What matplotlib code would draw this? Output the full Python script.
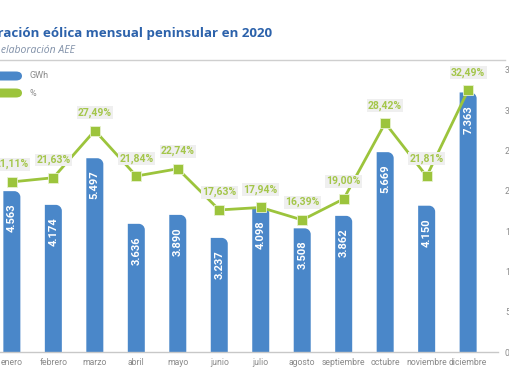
import matplotlib
matplotlib.use("Agg")
import matplotlib.pyplot as plt
from matplotlib.path import Path
from matplotlib.patches import PathPatch, FancyBboxPatch

months = ["enero", "febrero", "marzo", "abril", "mayo", "junio", "julio",
          "agosto", "septiembre", "octubre", "noviembre", "diciembre"]
gwh = [4563, 4174, 5497, 3636, 3890, 3237, 4098, 3508, 3862, 5669, 4150, 7363]
pct = [21.11, 21.63, 27.49, 21.84, 22.74, 17.63, 17.94, 16.39, 19.00, 28.42, 21.81, 32.49]
pct_ticks = [0, 5, 10, 15, 20, 25, 30, 35]

BLUE = "#4a87c9"
GREEN = "#9cc43c"
GREEN_TXT = "#a4c64a"
GRAY = "#8a8a8a"
TITLE = "#2c62ab"

W, H = 510, 382
fig = plt.figure(figsize=(W / 100, H / 100), dpi=100)

def fx(px):
    return px / W

def fy(py):
    return 1 - py / H

ax_left, ax_right, ax_top, ax_bot = -18, 498, 70, 352
ax = fig.add_axes([fx(ax_left), fy(ax_bot), fx(ax_right - ax_left), (ax_bot - ax_top) / H])
x = list(range(len(months)))
ax.set_xlim(-0.72, 11.72)
ax.set_ylim(0, 8000)
ax.patch.set_visible(False)

bw = 0.41
bars = ax.bar(x, gwh, width=bw, color=BLUE, zorder=2)
px_per_x = (ax_right - ax_left) / (11.72 + 0.72)
px_per_y = (ax_bot - ax_top) / 8000
r_px = 6
for b in bars:
    x0, w, h = b.get_x(), b.get_width(), b.get_height()
    rx = r_px / px_per_x
    ry = r_px / px_per_y
    k = 0.55
    verts = [(x0, 0), (x0, h), (x0 + w - rx, h),
             (x0 + w - rx + k * rx, h), (x0 + w, h - ry + k * ry), (x0 + w, h - ry),
             (x0 + w, 0), (x0, 0)]
    codes = [Path.MOVETO, Path.LINETO, Path.LINETO,
             Path.CURVE4, Path.CURVE4, Path.CURVE4,
             Path.LINETO, Path.CLOSEPOLY]
    ax.add_patch(PathPatch(Path(verts, codes), facecolor=BLUE, edgecolor="none", zorder=2))
    b.set_visible(False)
    lbl = f"{int(h):,}".replace(",", ".")
    ax.annotate(lbl, (x0 + w / 2, h), xytext=(0, -9), textcoords="offset points",
                rotation=90, ha="center", va="top", color="white",
                fontsize=8, fontweight="bold", family="Roboto", zorder=3)

for s in ["top", "left", "right"]:
    ax.spines[s].set_visible(False)
ax.spines["bottom"].set_color("#c8c8c8")
ax.spines["bottom"].set_linewidth(1)
ax.set_yticks([])
ax.set_xticks(x)
ax.set_xticklabels(months, fontsize=6.2, color=GRAY, family="Roboto")
ax.tick_params(axis="x", length=0, pad=4)

ax2 = ax.twinx()
ax2.set_ylim(0, 35)
ax2.plot(x, pct, color=GREEN, lw=2, zorder=4, marker="s", markersize=7,
         markerfacecolor=GREEN, markeredgecolor="#e8f2d0", markeredgewidth=0.6,
         clip_on=False)
for xi, p in zip(x, pct):
    ax2.annotate(f"{p:.2f}%".replace(".", ","), (xi, p), xytext=(0, 9),
                 textcoords="offset points", ha="center", va="bottom",
                 color=GREEN_TXT, fontsize=7.5, fontweight="bold", family="Roboto",
                 bbox=dict(boxstyle="square,pad=0.12", fc="#efefef", ec="none"),
                 zorder=5, annotation_clip=False)
for s in ["top", "left", "right", "bottom"]:
    ax2.spines[s].set_visible(False)
ax2.set_yticks(pct_ticks)
ax2.set_yticklabels([f"{t}%" for t in pct_ticks], fontsize=6.2, color=GRAY, family="Roboto")
ax2.tick_params(axis="y", length=0, pad=5)
ax.set_zorder(1)
ax2.set_zorder(2)
ax2.patch.set_visible(False)

# header
fig.text(fx(272), fy(33), "Generación eólica mensual peninsular en 2020", ha="right",
         va="center", fontsize=9.6, fontweight="bold", color=TITLE, family="Open Sans",
         zorder=10)
fig.text(fx(75), fy(50), "Fuente: REE y elaboración AEE", ha="right", va="center",
         fontsize=7.5, style="italic", color="#8090a8", family="Open Sans", zorder=10)
fig.add_artist(plt.Line2D([0, fx(505)], [fy(60), fy(60)], color="#cfcfcf", lw=1, zorder=10))

# legend
for yy, col, txt in [(76, BLUE, "GWh"), (93, GREEN, "%")]:
    fig.add_artist(FancyBboxPatch((fx(-10), fy(yy + 4.5)), fx(32), 9 / H,
                                  boxstyle="round,pad=0,rounding_size=0.012",
                                  fc=col, ec="none", transform=fig.transFigure,
                                  zorder=10))
    fig.text(fx(30), fy(yy), txt, ha="left", va="center", fontsize=6.5,
             color=GRAY, family="Roboto", zorder=10)

fig.savefig("out.png", dpi=100)
